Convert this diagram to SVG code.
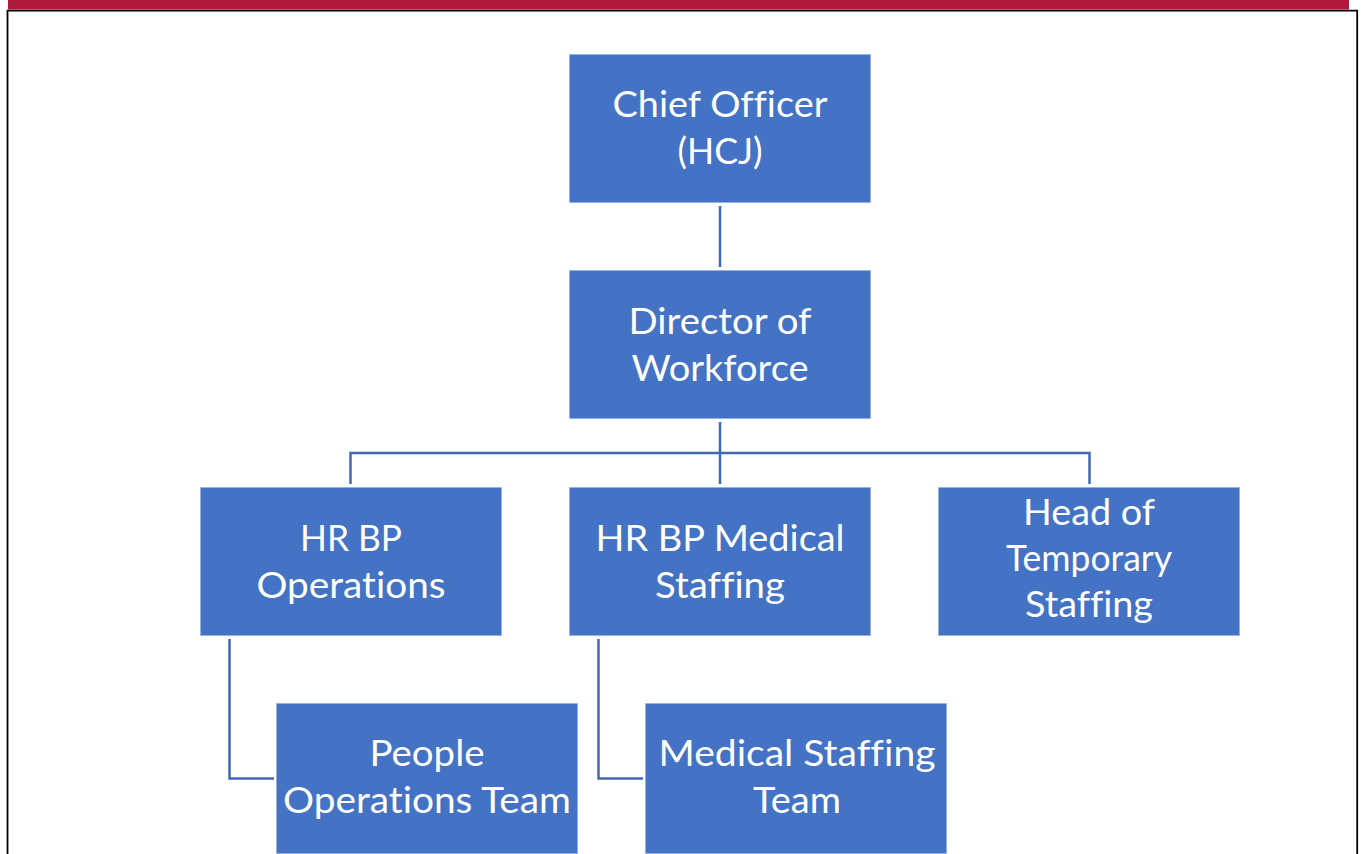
<svg xmlns="http://www.w3.org/2000/svg" width="1364" height="854" viewBox="0 0 1364 854">
<style>
.box{fill:#4472C4;stroke:#FFFFFF;stroke-opacity:0.6;stroke-width:1.5}
.t{font-family:Lato,"Open Sans","Liberation Sans",sans-serif;font-size:37px;fill:#FFFFFF;text-anchor:middle;font-variant-ligatures:none;font-feature-settings:"liga" 0, "clig" 0}
.c{fill:none;stroke:#4069B5;stroke-width:2.5}
</style>
<rect x="0" y="0" width="1364" height="854" fill="#FFFFFF"/>
<rect x="8" y="0" width="1341" height="9.5" fill="#AD1A3E"/>
<path d="M7.5 854 V10.6 H1357.2 V854" fill="none" stroke="#000000" stroke-width="1.8"/>
<g id="connectors">
<path class="c" d="M720 206 V267"/>
<path class="c" d="M720 422 V484"/>
<path class="c" d="M350.5 484 V453 H1089.5 V484"/>
<path class="c" d="M229.5 639 V778.5 H274"/>
<path class="c" d="M598.5 639 V778.5 H643"/>
</g>
<g id="chief">
<rect class="box" x="569" y="54" width="302" height="149"/>
<text class="t" x="720" y="117" textLength="215" lengthAdjust="spacingAndGlyphs">Chief Officer</text>
<text class="t" x="720" y="164" textLength="85" lengthAdjust="spacingAndGlyphs">(HCJ)</text>
</g>
<g id="director">
<rect class="box" x="569" y="270" width="302" height="149"/>
<text class="t" x="720" y="334" textLength="183" lengthAdjust="spacingAndGlyphs">Director of</text>
<text class="t" x="720" y="381" textLength="177" lengthAdjust="spacingAndGlyphs">Workforce</text>
</g>
<g id="hrbp-ops">
<rect class="box" x="200" y="487" width="302" height="149"/>
<text class="t" x="351" y="551" textLength="102" lengthAdjust="spacingAndGlyphs">HR BP</text>
<text class="t" x="351" y="598" textLength="189" lengthAdjust="spacingAndGlyphs">Operations</text>
</g>
<g id="hrbp-med">
<rect class="box" x="569" y="487" width="302" height="149"/>
<text class="t" x="720" y="551" textLength="249" lengthAdjust="spacingAndGlyphs">HR BP Medical</text>
<text class="t" x="720" y="598" textLength="130" lengthAdjust="spacingAndGlyphs">Staffing</text>
</g>
<g id="head-temp">
<rect class="box" x="938" y="487" width="302" height="149"/>
<text class="t" x="1089" y="525" textLength="132" lengthAdjust="spacingAndGlyphs">Head of</text>
<text class="t" x="1089" y="571" textLength="166" lengthAdjust="spacingAndGlyphs">Temporary</text>
<text class="t" x="1089" y="617" textLength="128" lengthAdjust="spacingAndGlyphs">Staffing</text>
</g>
<g id="people-ops">
<rect class="box" x="276" y="703" width="302" height="151"/>
<text class="t" x="427" y="766" textLength="115" lengthAdjust="spacingAndGlyphs">People</text>
<text class="t" x="427" y="813" textLength="288" lengthAdjust="spacingAndGlyphs">Operations Team</text>
</g>
<g id="med-staff">
<rect class="box" x="645" y="703" width="302" height="151"/>
<text class="t" x="797" y="766" textLength="277" lengthAdjust="spacingAndGlyphs">Medical Staffing</text>
<text class="t" x="797" y="813" textLength="88" lengthAdjust="spacingAndGlyphs">Team</text>
</g>
</svg>
